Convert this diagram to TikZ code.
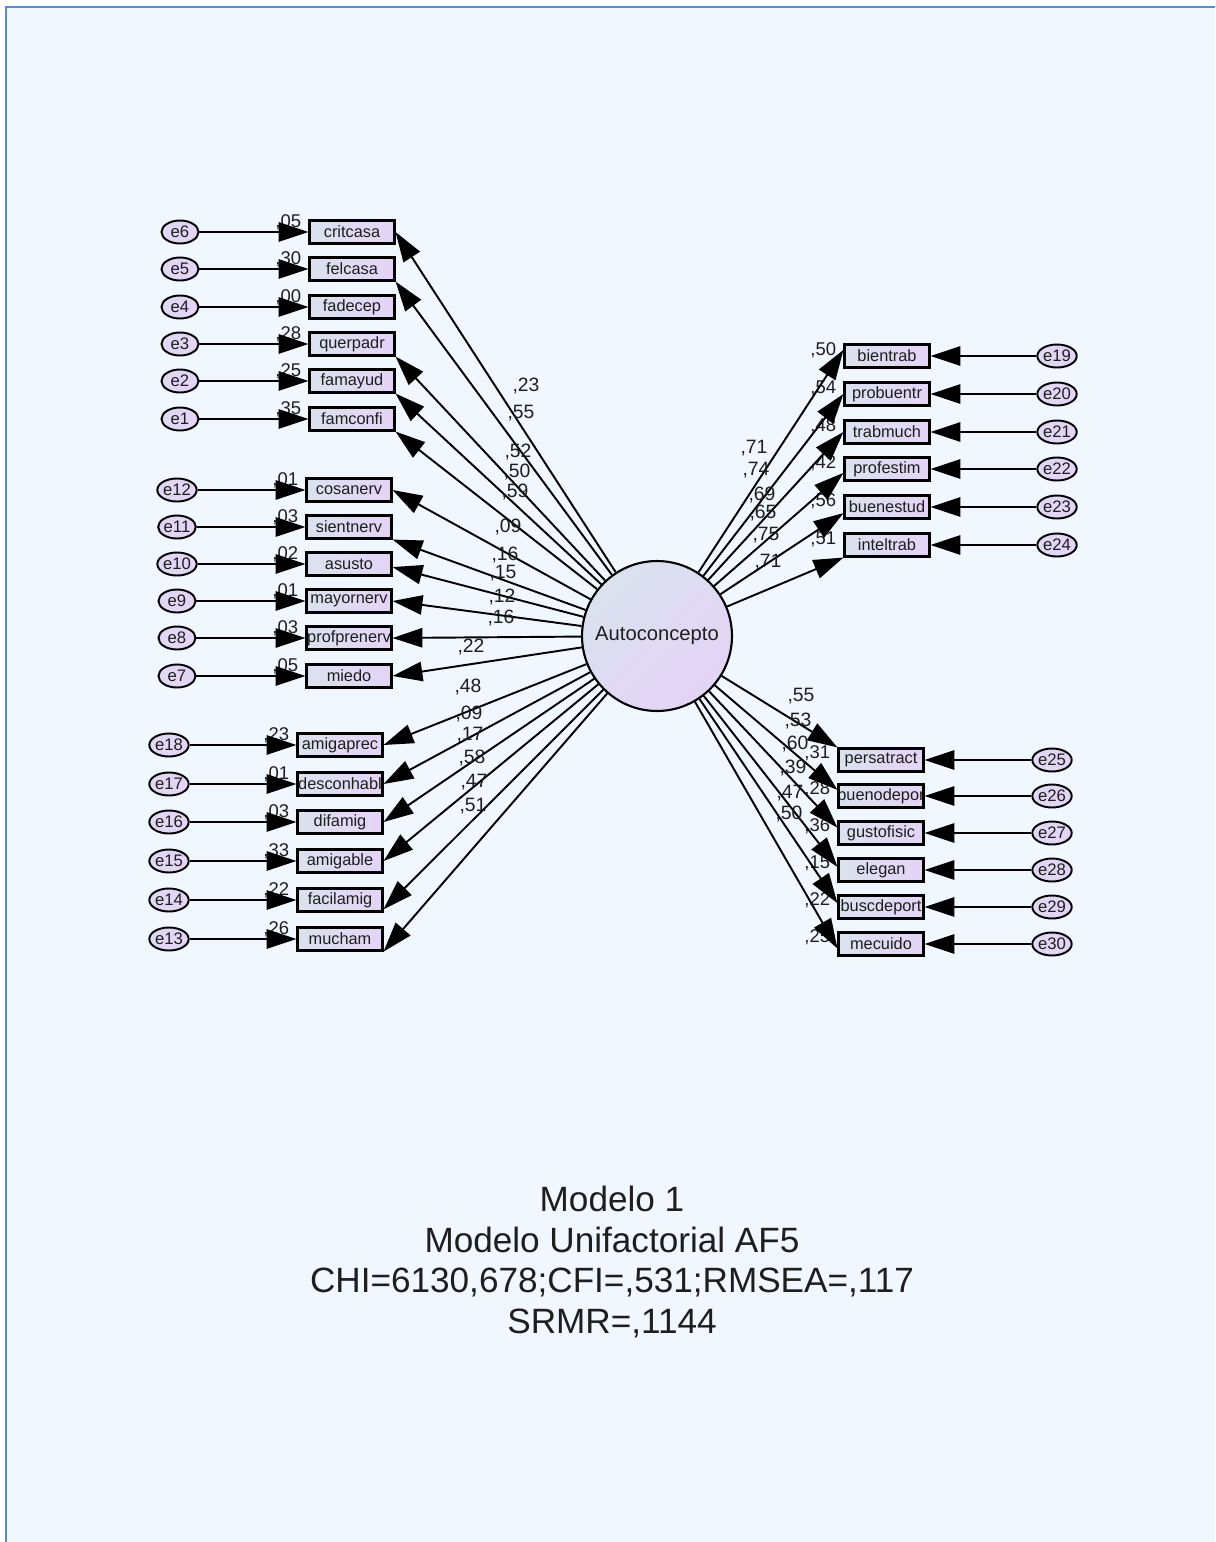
\documentclass[tikz,border=0pt]{standalone}
\usepackage{fontspec}
\setmainfont{Liberation Sans}
\usepackage{tikz}
\usetikzlibrary{positioning, arrows.meta, shapes.geometric}
\usepackage{xcolor}
\definecolor{pageblue}{RGB}{240,247,255}
\definecolor{frameblue}{RGB}{92,140,204}
\definecolor{boxgray}{RGB}{218,226,238}
\definecolor{boxlilac}{RGB}{228,211,246}
\definecolor{inktext}{RGB}{30,30,30}
\tikzset{
    obsvar/.style={
        rectangle,
        draw=black,
        line width=1.2pt,
        left color=boxgray,
        right color=boxlilac,
        minimum width=1.7cm,
        minimum height=0.46cm,
        inner sep=0pt,
        path picture={\node[font=\fontsize{9.3}{10}\selectfont, text=inktext]
          at (path picture bounding box.center) {#1};}
    },
    errvar/.style={
        ellipse,
        draw=black,
        line width=1.1pt,
        left color=boxgray!40!boxlilac,
        right color=boxlilac,
        minimum width=0.74cm,
        minimum height=0.46cm,
        inner sep=0pt,
        font=\fontsize{9.5}{10}\selectfont,
        text=inktext
    },
    latent/.style={
        circle,
        draw=black,
        line width=1.2pt,
        top color=boxgray,
        bottom color=boxlilac,
        shading angle=45,
        minimum size=3cm,
        inner sep=0pt,
        font=\fontsize{11.5}{13}\selectfont,
        text=inktext
    },
    pathline/.style={
        line width=1.1pt,
        -{Triangle[length=17pt,width=11pt]}
    }
}

\begin{document}
\begin{tikzpicture}[
        x=0.02cm, y=-0.02cm,
        coef/.style={font=\fontsize{11}{12}\selectfont, text=inktext, inner sep=0pt},
        rsqr/.style={coef, font=\fontsize{10.5}{12}\selectfont, anchor=east}
      ]

      % page
      \useasboundingbox (0,0) rectangle (1215,1542);
      \fill[white] (0,0) rectangle (1215,1542);
      \fill[pageblue] (6,7) rectangle (1215,1542);
      \draw[frameblue, line width=1.4pt] (6,1542) -- (6,7) -- (1215,7);

      \node[latent] (auto) at (657,636) {Autoconcepto};

      % observed variables and their errors
      \foreach \nm/\lbl/\err/\bx/\ex/\y/\rsq/\rdy in {
          critcasa/critcasa/e6/352/180/232/05/3,
          felcasa/felcasa/e5/352/180/269/30/3,
          fadecep/fadecep/e4/352/180/307/00/3,
          querpadr/querpadr/e3/352/180/344/28/3,
          famayud/famayud/e2/352/180/381/25/3,
          famconfi/famconfi/e1/352/180/419/35/3,
          cosanerv/cosanerv/e12/349/177/490/01/3,
          sientnerv/sientnerv/e11/349/177/527/03/3,
          asusto/asusto/e10/349/177/564/02/3,
          mayornerv/mayornerv/e9/349/177/601/01/3,
          profprenerv/profprenerv/e8/349/177/638/03/3,
          miedo/miedo/e7/349/177/676/05/3,
          amigaprec/amigaprec/e18/340/169/745/23/3,
          desconhab/desconhabl/e17/340/169/784/01/3,
          difamig/difamig/e16/340/169/822/03/3,
          amigable/amigable/e15/340/169/861/33/3,
          facilamig/facilamig/e14/340/169/900/22/3,
          mucham/mucham/e13/340/169/939/26/3,
          bientrab/bientrab/e19/887/1057/356/50/7,
          probuentr/probuentr/e20/887/1057/394/54/7,
          trabmuch/trabmuch/e21/887/1057/432/48/7,
          profestim/profestim/e22/887/1057/469/42/7,
          buenestud/buenestud/e23/887/1057/507/56/7,
          inteltrab/inteltrab/e24/887/1057/545/51/7,
          persatract/persatract/e25/881/1052/760/31/6,
          buenodepor/buenodepor/e26/881/1052/796/28/6,
          gustofisic/gustofisic/e27/881/1052/833/36/6,
          elegan/elegan/e28/881/1052/870/15/6,
          buscdeport/buscdeport/e29/881/1052/907/22/6,
          mecuido/mecuido/e30/881/1052/944/25/6}
        {
          \node[obsvar=\lbl] (\nm) at (\bx,\y) {};
          \node[errvar] (\err) at (\ex,\y) {\err};
          \node[rsqr] (r\nm) at ([shift={(-7,\rdy)}]\nm.north west) {,\rsq};
          \draw[pathline] (\err) -- (\nm);
        }

      % loadings
      \foreach \nm/\anc/\ld/\lx/\ly in {
          critcasa/east/23/526/386,
          felcasa/south east/55/521/413,
          querpadr/south east/52/518/452,
          famayud/south east/50/517/472,
          famconfi/south east/59/515/492,
          cosanerv/east/09/508/527,
          sientnerv/south east/16/505/555,
          asusto/356/15/503/573,
          mayornerv/east/12/502/597,
          profprenerv/east/16/501/618,
          miedo/east/22/471/647,
          amigaprec/east/48/468/687,
          desconhab/east/09/469/714,
          difamig/east/17/470/735,
          amigable/east/58/472/758,
          facilamig/348/47/474/782,
          mucham/south east/51/473/806,
          bientrab/172/71/754/448,
          probuentr/west/74/756/470,
          trabmuch/west/69/762/495,
          profestim/185/65/763/513,
          buenestud/188/75/766/535,
          inteltrab/south west/71/768/562,
          persatract/north west/55/801/696,
          buenodepor/172/53/798/721,
          gustofisic/173/60/795/744,
          elegan/176/39/793/768,
          buscdeport/175/47/790/793,
          mecuido/186/50/789/814}
        {
          \node[coef] (l\nm) at (\lx,\ly) {,\ld};
          \draw[pathline] (auto) -- (\nm.\anc);
        }

      \node[align=center, text=inktext, font=\fontsize{20}{23.2}\selectfont] (caption) at (612,1262)
        {Modelo 1\\Modelo Unifactorial AF5\\CHI=6130,678;CFI=,531;RMSEA=,117\\SRMR=,1144};

    \end{tikzpicture}
\end{document}
